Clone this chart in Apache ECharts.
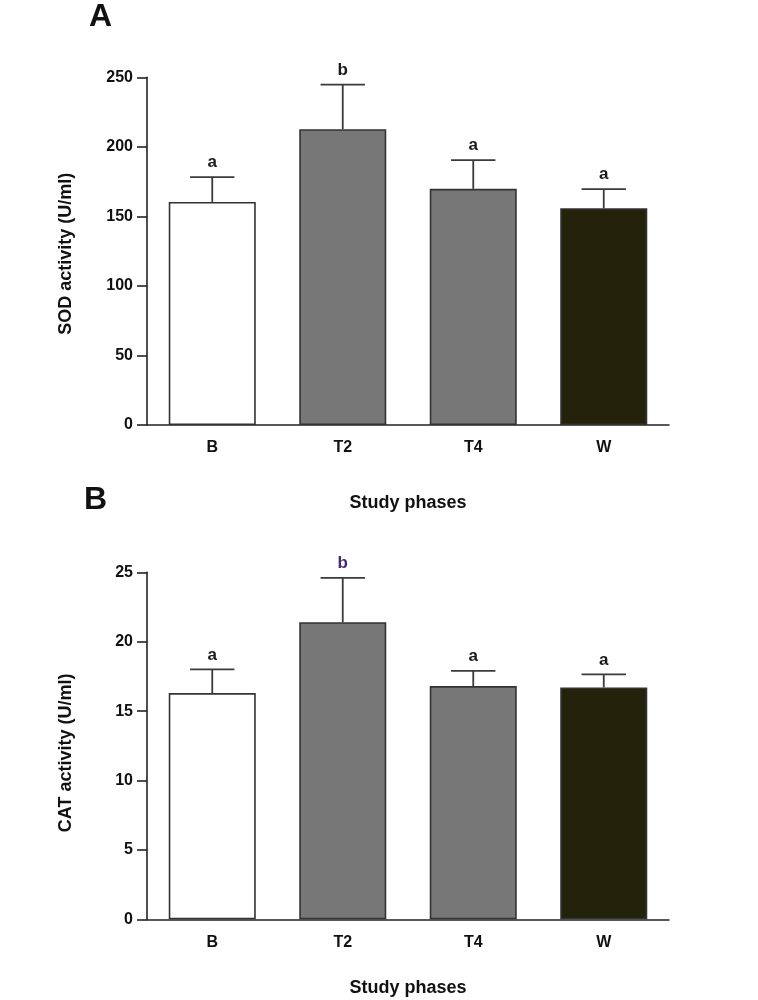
<!DOCTYPE html>
<html>
<head>
<meta charset="utf-8">
<script src="https://cdn.jsdelivr.net/npm/echarts@6/dist/echarts.min.js"></script>
<style>
html,body{margin:0;padding:0;background:#fff;}
#c{width:758px;height:1000px;}
</style>
</head>
<body>
<div id="c"></div>
<script>
const categories = ['B', 'T2', 'T4', 'W'];
const sodMean = [160.4, 212.7, 169.8, 155.9];
const sodUpper = [178.2, 244.8, 190.4, 169.6];
const sodLetters = ['a', 'b', 'a', 'a'];
const catMean = [16.3, 21.4, 16.8, 16.7];
const catUpper = [18.0, 24.6, 17.9, 17.65];
const catLetters = ['a', 'b', 'a', 'a'];
const sodTicks = [0, 50, 100, 150, 200, 250];
const catTicks = [0, 5, 10, 15, 20, 25];
const barColors = ['#ffffff', '#777777', '#777777', '#24220a'];
const letterColorsTop = ['#1a1a1a', '#1a1a1a', '#1a1a1a', '#1a1a1a'];
const letterColorsBottom = ['#1a1a1a', '#4a2a6e', '#1a1a1a', '#1a1a1a'];

const FONT = 'Liberation Sans, Arial, sans-serif';

function barData(vals) {
  return vals.map((v, i) => ({ value: v, itemStyle: { color: barColors[i] } }));
}
function errData(mean, upper, letters) {
  return mean.map((m, i) => [i, m, upper[i], letters[i]]);
}
function errRender(colors) {
  return function (params, api) {
    const i = api.value(0);
    const lo = api.coord([i, api.value(1)]);
    const hi = api.coord([i, api.value(2)]);
    const bw = api.size([1, 0])[0];
    const capHalf = bw * 0.17;
    const st = { stroke: '#3a3a3a', lineWidth: 1.8 };
    return {
      type: 'group',
      children: [
        { type: 'line', shape: { x1: lo[0], y1: lo[1], x2: hi[0], y2: hi[1] }, style: st },
        { type: 'line', shape: { x1: hi[0] - capHalf, y1: hi[1], x2: hi[0] + capHalf, y2: hi[1] }, style: st },
        { type: 'text', x: hi[0], y: hi[1] - 6,
          style: { text: api.value(3), fill: colors[params.dataIndex], font: 'bold 17px ' + FONT,
                   textAlign: 'center', textVerticalAlign: 'bottom' } }
      ]
    };
  };
}

function yAxisCfg(gridIndex, name, ticks, shift) {
  return {
    type: 'value', gridIndex: gridIndex, name: name, nameLocation: 'middle', nameGap: 72,
    nameTextStyle: { fontFamily: FONT, fontWeight: 'bold', fontSize: 18, color: '#111', padding: [0, shift, 0, 0] },
    min: ticks[0], max: ticks[ticks.length - 1], interval: ticks[1] - ticks[0],
    axisLine: { show: true, lineStyle: { color: '#222', width: 1.6 } },
    axisTick: { show: true, length: 10, lineStyle: { color: '#222', width: 1.6 } },
    axisLabel: { fontFamily: FONT, fontWeight: 'bold', fontSize: 16, color: '#111', margin: 14 },
    splitLine: { show: false }
  };
}
function xAxisCfg(gridIndex, gap) {
  return {
    type: 'category', gridIndex: gridIndex, data: categories,
    name: 'Study phases', nameLocation: 'middle', nameGap: gap,
    nameTextStyle: { fontFamily: FONT, fontWeight: 'bold', fontSize: 18, color: '#111' },
    axisLine: { show: true, lineStyle: { color: '#222', width: 1.6 } },
    axisTick: { show: false },
    axisLabel: { fontFamily: FONT, fontWeight: 'bold', fontSize: 16, color: '#111', margin: 15 }
  };
}

const chart = echarts.init(document.getElementById('c'), null, { renderer: 'canvas' });
chart.setOption({
  backgroundColor: '#ffffff',
  animation: false,
  title: [
    { text: 'A', left: 84, top: -4, textStyle: { fontFamily: FONT, fontWeight: 'bold', fontSize: 32, color: '#111' } },
    { text: 'B', left: 79, top: 479, textStyle: { fontFamily: FONT, fontWeight: 'bold', fontSize: 32, color: '#111' } }
  ],
  grid: [
    { left: 147, right: 89, top: 77.3, height: 347.7 },
    { left: 147, right: 89, top: 572.3, height: 347 }
  ],
  xAxis: [xAxisCfg(0, 69), xAxisCfg(1, 60)],
  yAxis: [yAxisCfg(0, 'SOD activity (U/ml)', sodTicks, 5), yAxisCfg(1, 'CAT activity (U/ml)', catTicks, 14)],
  series: [
    { type: 'bar', xAxisIndex: 0, yAxisIndex: 0, data: barData(sodMean), barCategoryGap: '33.3%',
      itemStyle: { borderColor: '#333', borderWidth: 1.6 }, z: 2 },
    { type: 'custom', xAxisIndex: 0, yAxisIndex: 0, data: errData(sodMean, sodUpper, sodLetters),
      renderItem: errRender(letterColorsTop), z: 3 },
    { type: 'bar', xAxisIndex: 1, yAxisIndex: 1, data: barData(catMean), barCategoryGap: '33.3%',
      itemStyle: { borderColor: '#333', borderWidth: 1.6 }, z: 2 },
    { type: 'custom', xAxisIndex: 1, yAxisIndex: 1, data: errData(catMean, catUpper, catLetters),
      renderItem: errRender(letterColorsBottom), z: 3 }
  ]
});
</script>
</body>
</html>
